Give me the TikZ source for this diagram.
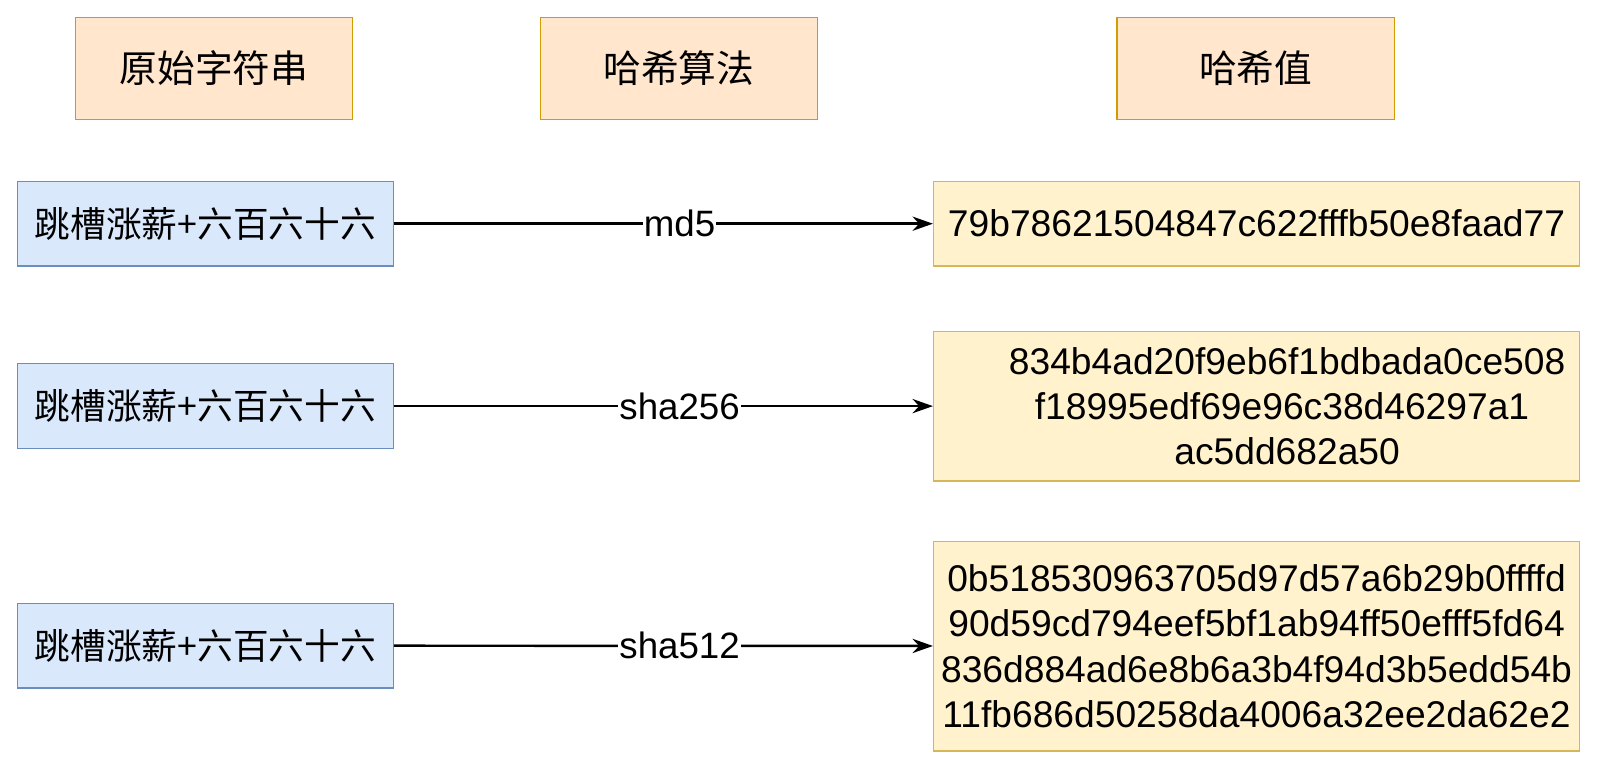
\documentclass[tikz,border=0pt]{standalone}
\usepackage{fontspec}
\setmainfont{Liberation Sans}
\newfontfamily\cjk{Noto Sans CJK SC}
\usetikzlibrary{arrows.meta}
\tikzset{
    head/.style={draw=orange!70!black!60!yellow, fill=headfill, line width=1.2pt, minimum width=272pt, minimum height=100pt, font=\cjk\fontsize{37}{44}\selectfont, inner sep=0pt},
    src/.style={draw=srcline, fill=srcfill, line width=1.2pt, minimum width=369pt, minimum height=83pt, font=\cjk\fontsize{35}{40}\selectfont, inner sep=0pt},
    hash/.style={draw=hashline, fill=hashfill, line width=1.2pt, minimum width=634pt, align=center, font=\fontsize{36.5}{44.5}\selectfont, inner sep=0pt},
    conn/.style={-{Stealth[length=20pt,width=14pt]}, line width=2.4pt},
    algo/.style={fill=white, font=\fontsize{36}{40}\selectfont, inner sep=1pt}
}
\definecolor{headfill}{HTML}{FFE6CC}
\definecolor{srcfill}{HTML}{DAE8FC}
\definecolor{srcline}{HTML}{6C8EBF}
\definecolor{hashfill}{HTML}{FFF2CC}
\definecolor{hashline}{HTML}{D6B656}
\begin{document}
\begin{tikzpicture}[x=1pt,y=-1pt]
        \useasboundingbox (0,0) rectangle (1570,755.5);
        % Column headers
        \node[head] (hsrc) at (210,67) {原始字符串};
        \node[head] (halgo) at (666,67) {哈希算法};
        \node[head] (hval) at (1232,67) {哈希值};

        % Input strings
        \node[src] (in1) at (201.5,219.5) {跳槽涨薪+六百六十六};
        \node[src] (in2) at (201.5,398.5) {跳槽涨薪+六百六十六};
        \node[src] (in3) at (201.5,633.5) {跳槽涨薪+六百六十六};

        % Hash values
        \node[hash, minimum height=83pt] (out1) at (1233,219.5) {79b78621504847c622fffb50e8faad77};
        \node[hash, minimum height=147pt] (out2) at (1233,398.5) {\hspace*{60pt}834b4ad20f9eb6f1bdbada0ce508\\\hspace*{50pt}f18995edf69e96c38d46297a1\\\hspace*{60pt}ac5dd682a50};
        \node[hash, minimum height=206pt] (out3) at (1233,634) {0b518530963705d97d57a6b29b0ffffd\\90d59cd794eef5bf1ab94ff50efff5fd64\\836d884ad6e8b6a3b4f94d3b5edd54b\\11fb686d50258da4006a32ee2da62e2};

        % Connectors with algorithm names
        \draw[conn] (in1) -- (out1) node[algo, pos=0.53] (a1) {md5};
        \draw[conn] (in2) -- (out2) node[algo, pos=0.53] (a2) {sha256};
        \draw[conn] (in3) -- (out3) node[algo, pos=0.53] (a3) {sha512};
\end{tikzpicture}
\end{document}
